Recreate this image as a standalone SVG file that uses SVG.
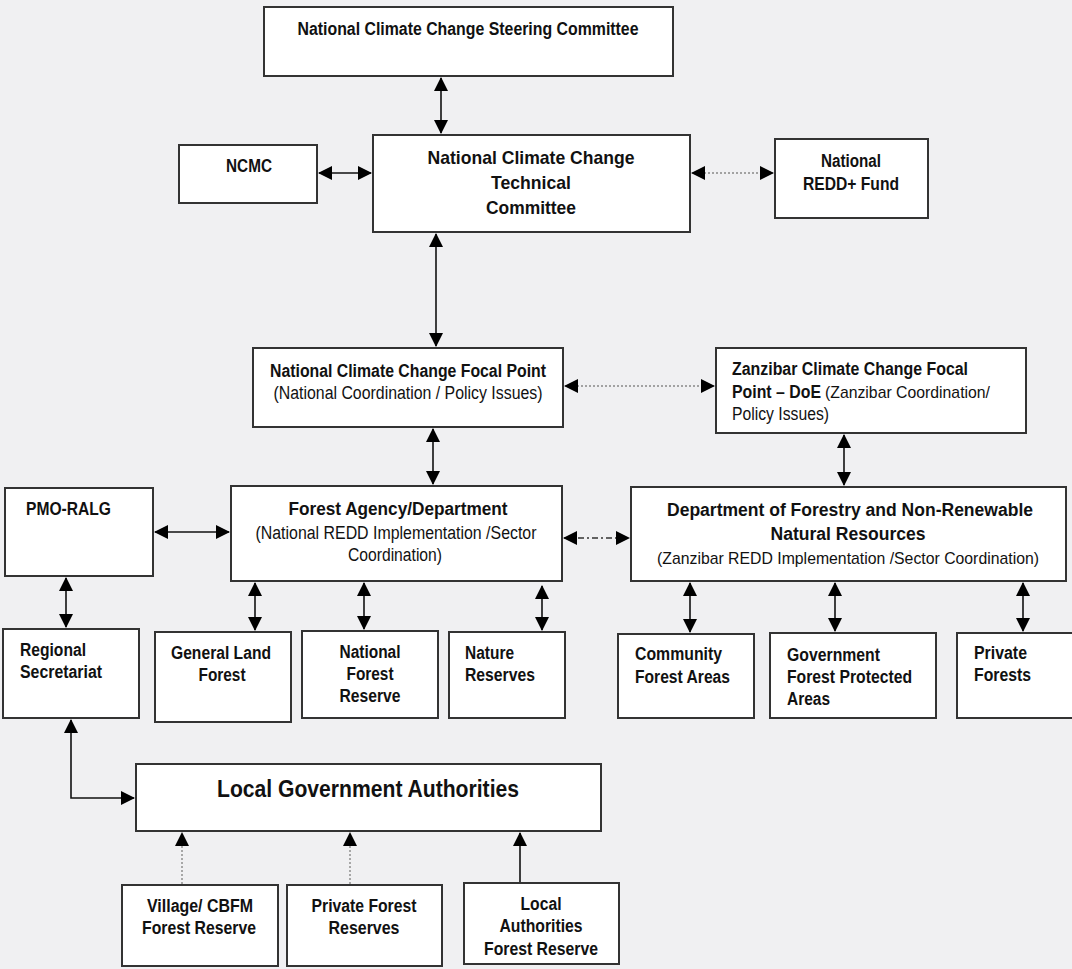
<svg xmlns="http://www.w3.org/2000/svg" width="1072" height="969" viewBox="0 0 1072 969">
<defs>
<marker id="ah" viewBox="0 0 14 14" refX="13" refY="7" markerWidth="14" markerHeight="14" markerUnits="userSpaceOnUse" orient="auto-start-reverse">
<path d="M0,0 L14,7 L0,14 Z" fill="#000"/>
</marker>
<style>
.box{fill:#fff;stroke:#333;stroke-width:2}
.t{font-family:"Liberation Sans",Arial,sans-serif;font-size:18px;fill:#111}
.b{font-weight:bold}
.c{text-anchor:middle}
.s17{font-size:17px}
.s18{font-size:19px}
.s23{font-size:23px}
.ln{stroke:#111;stroke-width:1.6;fill:none}
.dot{stroke:#888;stroke-width:1.4;fill:none;stroke-dasharray:2 2}
.dd{stroke:#333;stroke-width:1.4;fill:none;stroke-dasharray:6 3 2 3}
</style>
</defs>
<rect width="1072" height="969" fill="#f0f0f2"/>

<g id="connectors">
<line class="ln" x1="441" y1="78" x2="441" y2="133" marker-start="url(#ah)" marker-end="url(#ah)"/>
<line class="ln" x1="319" y1="173" x2="371" y2="173" marker-start="url(#ah)" marker-end="url(#ah)"/>
<line class="dot" x1="692" y1="173" x2="773" y2="173" marker-start="url(#ah)" marker-end="url(#ah)"/>
<line class="ln" x1="436" y1="234" x2="436" y2="346" marker-start="url(#ah)" marker-end="url(#ah)"/>
<line class="dot" x1="565" y1="386" x2="714" y2="386" marker-start="url(#ah)" marker-end="url(#ah)"/>
<line class="ln" x1="433" y1="429" x2="433" y2="484" marker-start="url(#ah)" marker-end="url(#ah)"/>
<line class="ln" x1="844" y1="435" x2="844" y2="485" marker-start="url(#ah)" marker-end="url(#ah)"/>
<line class="ln" x1="155" y1="532" x2="229" y2="532" marker-start="url(#ah)" marker-end="url(#ah)"/>
<line class="dd" x1="564" y1="538" x2="629" y2="538" marker-start="url(#ah)" marker-end="url(#ah)"/>
<line class="ln" x1="66" y1="578" x2="66" y2="627" marker-start="url(#ah)" marker-end="url(#ah)"/>
<line class="ln" x1="255" y1="583" x2="255" y2="630" marker-start="url(#ah)" marker-end="url(#ah)"/>
<line class="ln" x1="364" y1="583" x2="364" y2="629" marker-start="url(#ah)" marker-end="url(#ah)"/>
<line class="ln" x1="542" y1="586" x2="542" y2="630" marker-start="url(#ah)" marker-end="url(#ah)"/>
<line class="ln" x1="690" y1="583" x2="690" y2="632" marker-start="url(#ah)" marker-end="url(#ah)"/>
<line class="ln" x1="835" y1="583" x2="835" y2="631" marker-start="url(#ah)" marker-end="url(#ah)"/>
<line class="ln" x1="1023" y1="583" x2="1023" y2="631" marker-start="url(#ah)" marker-end="url(#ah)"/>
<path class="ln" d="M71,720 V798 H134" marker-start="url(#ah)" marker-end="url(#ah)"/>
<line class="dot" x1="182" y1="884" x2="182" y2="833" marker-end="url(#ah)"/>
<line class="dot" x1="350" y1="884" x2="350" y2="833" marker-end="url(#ah)"/>
<line class="ln" x1="520" y1="882" x2="520" y2="833" marker-end="url(#ah)"/>
</g>

<g id="steering"><rect class="box" x="264" y="7" width="409" height="69"/>
<text class="t b c" x="468" y="35" textLength="341" lengthAdjust="spacingAndGlyphs">National Climate Change Steering  Committee</text></g>

<g id="ncmc"><rect class="box" x="179" y="145" width="138" height="58"/>
<text class="t b c" x="249" y="172" textLength="46" lengthAdjust="spacingAndGlyphs">NCMC</text></g>

<g id="technical"><rect class="box" x="373" y="135" width="317" height="97"/>
<text class="t b c s18" x="531" y="164" textLength="207" lengthAdjust="spacingAndGlyphs">National Climate Change</text>
<text class="t b c s18" x="531" y="189" textLength="80" lengthAdjust="spacingAndGlyphs">Technical</text>
<text class="t b c s18" x="531" y="214" textLength="90" lengthAdjust="spacingAndGlyphs">Committee</text></g>

<g id="fund"><rect class="box" x="775" y="139" width="153" height="79"/>
<text class="t b c" x="851" y="167" textLength="60" lengthAdjust="spacingAndGlyphs">National</text>
<text class="t b c" x="851" y="190" textLength="96" lengthAdjust="spacingAndGlyphs">REDD+ Fund</text></g>

<g id="focal"><rect class="box" x="253" y="348" width="310" height="79"/>
<text class="t b c" x="408" y="377" textLength="276" lengthAdjust="spacingAndGlyphs">National Climate Change Focal Point</text>
<text class="t c" x="408" y="399" textLength="269" lengthAdjust="spacingAndGlyphs">(National Coordination / Policy Issues)</text></g>

<g id="zanzibar"><rect class="box" x="716" y="348" width="310" height="85"/>
<text class="t b" x="732" y="375" textLength="236" lengthAdjust="spacingAndGlyphs">Zanzibar Climate Change Focal</text>
<text class="t b" x="732" y="398" textLength="89" lengthAdjust="spacingAndGlyphs">Point – DoE</text>
<text class="t s17" x="825" y="398" textLength="165" lengthAdjust="spacingAndGlyphs">(Zanzibar Coordination/</text>
<text class="t" x="732" y="420" textLength="97" lengthAdjust="spacingAndGlyphs">Policy Issues)</text></g>

<g id="pmo"><rect class="box" x="5" y="488" width="148" height="88"/>
<text class="t b" x="26" y="515" textLength="85" lengthAdjust="spacingAndGlyphs">PMO-RALG</text></g>

<g id="forest-agency"><rect class="box" x="231" y="486" width="331" height="95"/>
<text class="t b c" x="398" y="515" textLength="219" lengthAdjust="spacingAndGlyphs">Forest Agency/Department</text>
<text class="t c" x="396" y="539" textLength="281" lengthAdjust="spacingAndGlyphs">(National REDD Implementation /Sector</text>
<text class="t c" x="395" y="561" textLength="94" lengthAdjust="spacingAndGlyphs">Coordination)</text></g>

<g id="dept-forestry"><rect class="box" x="631" y="487" width="435" height="94"/>
<text class="t b c" x="850" y="516" textLength="366" lengthAdjust="spacingAndGlyphs">Department of Forestry and Non-Renewable</text>
<text class="t b c" x="848" y="540" textLength="155" lengthAdjust="spacingAndGlyphs">Natural Resources</text>
<text class="t c s17" x="848" y="564" textLength="382" lengthAdjust="spacingAndGlyphs">(Zanzibar REDD Implementation /Sector Coordination)</text></g>

<g id="regional"><rect class="box" x="3" y="629" width="136" height="89"/>
<text class="t b" x="20" y="656" textLength="66" lengthAdjust="spacingAndGlyphs">Regional</text>
<text class="t b" x="20" y="678" textLength="82" lengthAdjust="spacingAndGlyphs">Secretariat</text></g>

<g id="general-land"><rect class="box" x="155" y="632" width="136" height="90"/>
<text class="t b c" x="221" y="659" textLength="100" lengthAdjust="spacingAndGlyphs">General Land</text>
<text class="t b c" x="222" y="681" textLength="47" lengthAdjust="spacingAndGlyphs">Forest</text></g>

<g id="national-forest"><rect class="box" x="302" y="631" width="136" height="87"/>
<text class="t b c" x="370" y="658" textLength="61" lengthAdjust="spacingAndGlyphs">National</text>
<text class="t b c" x="370" y="680" textLength="47" lengthAdjust="spacingAndGlyphs">Forest</text>
<text class="t b c" x="370" y="702" textLength="61" lengthAdjust="spacingAndGlyphs">Reserve</text></g>

<g id="nature"><rect class="box" x="449" y="632" width="116" height="86"/>
<text class="t b" x="465" y="659" textLength="49" lengthAdjust="spacingAndGlyphs">Nature</text>
<text class="t b" x="465" y="681" textLength="70" lengthAdjust="spacingAndGlyphs">Reserves</text></g>

<g id="community"><rect class="box" x="618" y="634" width="136" height="84"/>
<text class="t b" x="635" y="660" textLength="87" lengthAdjust="spacingAndGlyphs">Community</text>
<text class="t b" x="635" y="683" textLength="95" lengthAdjust="spacingAndGlyphs">Forest Areas</text></g>

<g id="government"><rect class="box" x="770" y="633" width="166" height="85"/>
<text class="t b" x="787" y="661" textLength="93" lengthAdjust="spacingAndGlyphs">Government</text>
<text class="t b" x="787" y="683" textLength="125" lengthAdjust="spacingAndGlyphs">Forest Protected</text>
<text class="t b" x="787" y="705" textLength="43" lengthAdjust="spacingAndGlyphs">Areas</text></g>

<g id="private-forests"><rect class="box" x="957" y="633" width="120" height="85"/>
<text class="t b" x="974" y="659" textLength="53" lengthAdjust="spacingAndGlyphs">Private</text>
<text class="t b" x="974" y="681" textLength="57" lengthAdjust="spacingAndGlyphs">Forests</text></g>

<g id="lga"><rect class="box" x="136" y="764" width="465" height="67"/>
<text class="t b c s23" x="368" y="797" textLength="302" lengthAdjust="spacingAndGlyphs">Local Government Authorities</text></g>

<g id="village"><rect class="box" x="122" y="885" width="156" height="81"/>
<text class="t b c" x="200" y="912" textLength="106" lengthAdjust="spacingAndGlyphs">Village/ CBFM</text>
<text class="t b c" x="199" y="934" textLength="114" lengthAdjust="spacingAndGlyphs">Forest Reserve</text></g>

<g id="private-reserves"><rect class="box" x="287" y="885" width="155" height="81"/>
<text class="t b c" x="364" y="912" textLength="105" lengthAdjust="spacingAndGlyphs">Private Forest</text>
<text class="t b c" x="364" y="934" textLength="71" lengthAdjust="spacingAndGlyphs">Reserves</text></g>

<g id="local-auth"><rect class="box" x="464" y="883" width="155" height="81"/>
<text class="t b c" x="541" y="910" textLength="41" lengthAdjust="spacingAndGlyphs">Local</text>
<text class="t b c" x="541" y="932" textLength="83" lengthAdjust="spacingAndGlyphs">Authorities</text>
<text class="t b c" x="541" y="955" textLength="114" lengthAdjust="spacingAndGlyphs">Forest Reserve</text></g>
</svg>
